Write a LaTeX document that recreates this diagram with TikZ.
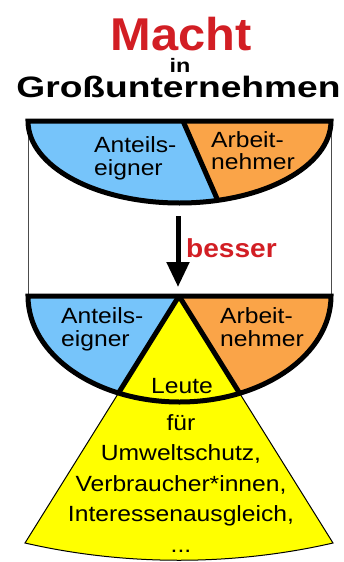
\documentclass[tikz,border=0pt]{standalone}
\usepackage{fontspec}
\setmainfont{Liberation Sans}
% widened cuts of the sans face for the different text sizes
\newfontfamily\bodyface[FakeStretch=1.12]{Liberation Sans}
\newfontfamily\machtface[FakeStretch=1.06]{Liberation Sans}
\newfontfamily\firmface[FakeStretch=1.26]{Liberation Sans}
\newfontfamily\inface[FakeStretch=1.2]{Liberation Sans}
\newfontfamily\besserface[FakeStretch=1.08]{Liberation Sans}
\usetikzlibrary{arrows.meta}

\definecolor{titlered}{RGB}{210,30,36}
\definecolor{ownerblue}{RGB}{118,196,250}
\definecolor{staffgold}{RGB}{250,164,72}
\definecolor{publicyellow}{RGB}{255,255,0}

\tikzset{
  heavy/.style={line width=5pt, line join=miter},
  framesides/.style={line width=1pt, black!70},
  partylabel/.style={font=\bodyface\fontsize{22pt}{22.5pt}\selectfont, inner sep=0pt, align=left, anchor=north west},
  publiclabel/.style={font=\bodyface\fontsize{22pt}{30.5pt}\selectfont, inner sep=0pt, align=center},
  bigtitle/.style={font=\machtface\bfseries\fontsize{46pt}{46pt}\selectfont, text=titlered, inner sep=0pt, anchor=base},
  subtitle/.style={font=\firmface\bfseries\fontsize{29.5pt}{30pt}\selectfont, inner sep=0pt, anchor=base},
  smalltitle/.style={font=\inface\bfseries\fontsize{19.5pt}{20pt}\selectfont, inner sep=0pt, anchor=base},
  arrowlabel/.style={font=\besserface\bfseries\fontsize{26pt}{26pt}\selectfont, text=titlered, inner sep=0pt, anchor=base west},
  downarrow/.style={line width=5pt, -{Triangle[width=22pt,length=25pt]}}
}

\begin{document}
\begin{tikzpicture}[x=1pt,y=1pt]
\useasboundingbox (0,0) rectangle (344,-562);

% heading
\node[bigtitle] (macht) at (181,-50) {Macht};
\node[smalltitle] (in) at (180,-72.5) {in};
\node[subtitle] (firm) at (178.5,-97) {Großunternehmen};

% thin side walls of the upper frame
\draw[framesides] (28,-121) -- (28,-296) (331,-121) -- (331,-296);

% upper bowl: shareholders and employees (half ellipse)
\fill[ownerblue] (28,-121) arc[start angle=180, end angle=360, x radius=151.5pt, y radius=82pt] -- cycle;
\begin{scope}
  \clip (28,-121) arc[start angle=180, end angle=360, x radius=151.5pt, y radius=82pt] -- cycle;
  \fill[staffgold] (183,-121) -- (222,-210) -- (340,-210) -- (340,-121) -- cycle;
  \draw[heavy] (183,-121) -- (222,-210);
\end{scope}
\draw[heavy] (28,-121) arc[start angle=180, end angle=360, x radius=151.5pt, y radius=82pt] -- cycle;

\node[partylabel] (owners1) at (94,-136.5) {Anteils-\\eigner};
\node[partylabel] (staff1) at (211,-131) {Arbeit-\\nehmer};

% arrow between the two states
\coordinate (arrowtop) at (178,-216);
\coordinate (arrowtip) at (178,-287);
\draw[downarrow] (arrowtop) -- (arrowtip);
\node[arrowlabel] (better) at (186,-257) {besser};

% lower bowl (deeper half ellipse)
\fill[ownerblue] (28,-296) arc[start angle=180, end angle=360, x radius=151.5pt, y radius=106pt] -- cycle;
\begin{scope}
  \clip (28,-296) arc[start angle=180, end angle=360, x radius=151.5pt, y radius=106pt] -- cycle;
  \fill[staffgold] (179,-296) rectangle (340,-420);
\end{scope}

% wedge of stakeholders
\fill[publicyellow] (179,-296) -- (25,-543) .. controls (125,-566) and (233,-566) .. (333,-543) -- cycle;
\draw[line width=1pt] (179,-296) -- (25,-543) .. controls (125,-566) and (233,-566) .. (333,-543) -- cycle;
\begin{scope}
  \clip (28,-296) arc[start angle=180, end angle=360, x radius=151.5pt, y radius=106pt] -- cycle;
  \draw[heavy] (25,-543) -- (179,-296) -- (333,-543);
\end{scope}
\draw[heavy] (28,-296) arc[start angle=180, end angle=360, x radius=151.5pt, y radius=106pt] -- cycle;

\node[partylabel] (owners2) at (61,-307.5) {Anteils-\\eigner};
\node[partylabel] (staff2) at (220,-307.5) {Arbeit-\\nehmer};

\node[publiclabel, anchor=base] (people) at (182,-393) {Leute};
\node[publiclabel, anchor=north] (purposes) at (181,-414)
  {für\\Umweltschutz,\\Verbraucher*innen,\\Interessenausgleich,\\...};
\end{tikzpicture}
\end{document}
